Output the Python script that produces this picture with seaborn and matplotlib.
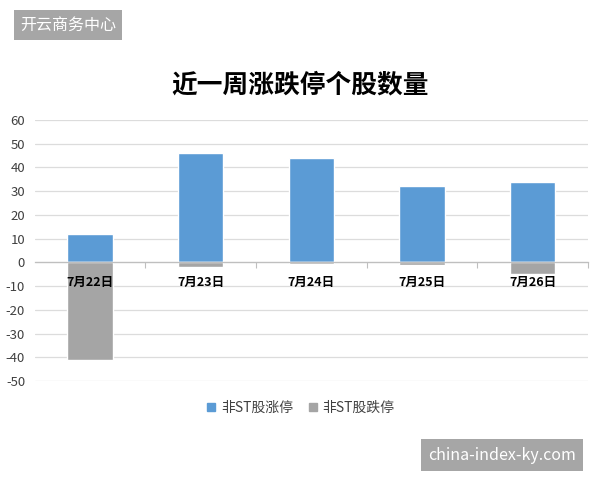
import matplotlib
matplotlib.use("Agg")
import matplotlib.pyplot as plt
import seaborn as sns
import pandas as pd
from matplotlib.lines import Line2D
from matplotlib.ticker import FixedLocator

categories = ["7月22日", "7月23日", "7月24日", "7月25日", "7月26日"]
series_names = ["非ST股涨停", "非ST股跌停"]
limit_up = [12, 46, 44, 32, 34]
limit_down = [-41, -2, -0.5, -1, -5]
y_ticks = [-50, -40, -30, -20, -10, 0, 10, 20, 30, 40, 50, 60]
title = "近一周涨跌停个股数量"
watermark_left = "开云商务中心"
watermark_right = "china-index-ky.com"

sns.set_theme(style="white")
plt.rcParams['font.family'] = ['Noto Sans CJK SC', 'DejaVu Sans']
plt.rcParams['axes.unicode_minus'] = False

blue = "#5b9bd5"
grey = "#a5a5a5"

df = pd.DataFrame({"date": categories, "up": limit_up, "down": limit_down})

fig = plt.figure(figsize=(6, 4.8), dpi=100)
ax = fig.add_axes([0.058, 0.206, 0.922, 0.544])

sns.barplot(data=df, x="date", y="up", color=blue, saturation=1, width=0.41, ax=ax, zorder=2)
sns.barplot(data=df, x="date", y="down", color=grey, saturation=1, width=0.41, ax=ax, zorder=2)

ax.set_xlim(-0.5, 4.5)
ax.set_ylim(-50, 60)
ax.set_yticks(y_ticks)
ax.set_yticklabels([str(v) for v in y_ticks])
ax.set_xlabel("")
ax.set_ylabel("")

for s in ["top", "right", "left"]:
    ax.spines[s].set_visible(False)
ax.spines["bottom"].set_position(("data", 0))
ax.spines["bottom"].set_color("#bfbfbf")
ax.spines["bottom"].set_linewidth(0.9)

ax.yaxis.grid(True, color="#dcdcdc", linewidth=0.9)
ax.xaxis.grid(False)
ax.yaxis.set_zorder(0.5)
ax.xaxis.set_zorder(5)

ax.tick_params(axis="y", length=0, labelsize=9.5, labelcolor="#404040", pad=7)
ax.tick_params(axis="x", which="major", length=0, labelsize=9, pad=10)
ax.xaxis.set_minor_locator(FixedLocator([0.5, 1.5, 2.5, 3.5, 4.5]))
ax.tick_params(axis="x", which="minor", length=4, width=0.8, color="#bfbfbf", direction="out", bottom=True)
for lab in ax.get_xticklabels():
    lab.set_fontweight("bold")
    lab.set_color("#000000")

fig.text(0.5, 1 - 85 / 480, title, ha="center", va="center", fontsize=18.5, fontweight="bold", color="#000000")

handles = [
    Line2D([0], [0], marker="s", linestyle="none", markersize=5.5, markerfacecolor=blue, markeredgecolor=blue),
    Line2D([0], [0], marker="s", linestyle="none", markersize=5.5, markerfacecolor=grey, markeredgecolor=grey),
]
fig.legend(handles, series_names, loc="center", bbox_to_anchor=(0.5, 1 - 408 / 480), ncol=2,
           frameon=False, fontsize=10, handlelength=0.8, handletextpad=0.3, columnspacing=1.0,
           labelcolor="#404040")

fig.text(20 / 600, 1 - 25 / 480, watermark_left, ha="left", va="center", fontsize=11.5, color="white",
         bbox=dict(boxstyle="square,pad=0.4", facecolor="#a6a6a6", edgecolor="none"))
fig.text(428 / 600, 1 - 455 / 480, watermark_right, ha="left", va="center", fontsize=11.5, color="white",
         bbox=dict(boxstyle="square,pad=0.45", facecolor="#a6a6a6", edgecolor="none"))

fig.savefig("out.png", dpi=100)
